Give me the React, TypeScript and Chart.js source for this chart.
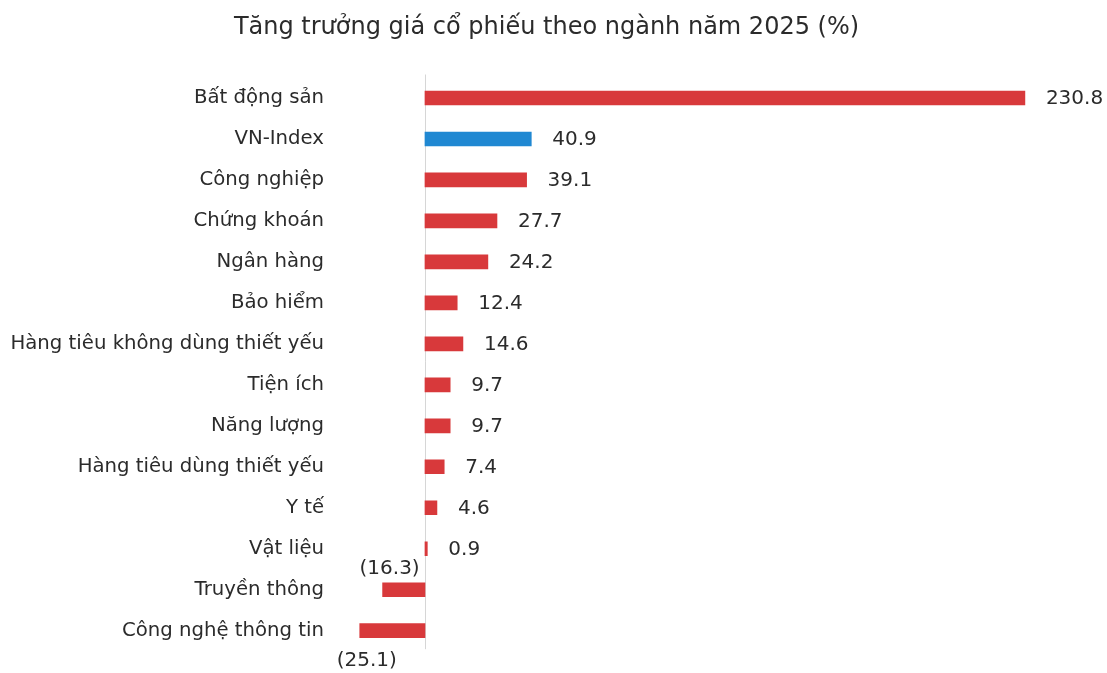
import React, { useEffect, useRef } from "react";
import { Chart, registerables } from "chart.js";

Chart.register(...registerables);

const TITLE = "Tăng trưởng giá cổ phiếu theo ngành năm 2025 (%)";

const categories = [
  "Bất động sản",
  "VN-Index",
  "Công nghiệp",
  "Chứng khoán",
  "Ngân hàng",
  "Bảo hiểm",
  "Hàng tiêu không dùng thiết yếu",
  "Tiện ích",
  "Năng lượng",
  "Hàng tiêu dùng thiết yếu",
  "Y tế",
  "Vật liệu",
  "Truyền thông",
  "Công nghệ thông tin",
];

const growth = [230.8, 40.9, 39.1, 27.7, 24.2, 12.4, 14.6, 9.7, 9.7, 7.4, 4.6, 0.9, -16.3, -25.1];

const highlightCategory = "VN-Index";

const RED = "#d8393b";
const BLUE = "#2088d2";
const FONT = "'DejaVu Sans', sans-serif";

const zeroLinePlugin = {
  id: "zeroLine",
  beforeDatasetsDraw(chart: any) {
    const { ctx, chartArea, scales } = chart;
    const x = Math.round(scales.x.getPixelForValue(0)) + 0.5;
    ctx.save();
    ctx.strokeStyle = "#d6d6d6";
    ctx.lineWidth = 1;
    ctx.beginPath();
    ctx.moveTo(x, chartArea.top - 3);
    ctx.lineTo(x, chartArea.bottom - 2);
    ctx.stroke();
    ctx.restore();
  },
};

const valueLabelPlugin = {
  id: "valueLabels",
  afterDatasetsDraw(chart: any) {
    const { ctx } = chart;
    const meta = chart.getDatasetMeta(0);
    const data = chart.data.datasets[0].data as number[];
    const n = data.length;
    ctx.save();
    ctx.font = `20px ${FONT}`;
    ctx.fillStyle = "#2b2b2b";
    ctx.textBaseline = "middle";
    meta.data.forEach((bar: any, i: number) => {
      const v = data[i];
      if (v >= 0) {
        ctx.textAlign = "left";
        ctx.fillText(v.toFixed(1), bar.x + 21, bar.y + 1);
      } else {
        ctx.textAlign = "center";
        const txt = `(${Math.abs(v).toFixed(1)})`;
        const dy = i === n - 1 ? 30 : -21;
        ctx.fillText(txt, bar.x + 7, bar.y + dy);
      }
    });
    ctx.restore();
  },
};

export default function App() {
  const canvasRef = useRef<HTMLCanvasElement | null>(null);

  useEffect(() => {
    if (!canvasRef.current) return;
    const chart = new Chart(canvasRef.current, {
      type: "bar",
      data: {
        labels: categories,
        datasets: [
          {
            data: growth,
            backgroundColor: categories.map((c) => (c === highlightCategory ? BLUE : RED)),
            borderWidth: 0,
            barThickness: 14,
          },
        ],
      },
      options: {
        indexAxis: "y",
        animation: false,
        responsive: true,
        maintainAspectRatio: false,
        layout: { padding: { top: 0, bottom: 20, left: 0, right: 14 } },
        plugins: {
          legend: { display: false },
          tooltip: { enabled: false },
          title: {
            display: true,
            text: TITLE,
            color: "#2b2b2b",
            font: { family: FONT, size: 24, weight: "normal", lineHeight: 1.2 },
            padding: { top: 13, bottom: 35.7 },
          },
        },
        scales: {
          x: {
            display: false,
            min: -35,
            max: 257,
          },
          y: {
            grid: { display: false, drawTicks: false },
            border: { display: false },
            ticks: {
              color: "#2b2b2b",
              font: { family: FONT, size: 19.7 },
              padding: 10,
            },
            afterFit(scale: any) {
              scale.width = 334;
            },
          },
        },
      },
      plugins: [zeroLinePlugin, valueLabelPlugin],
    });
    return () => chart.destroy();
  }, []);

  return (
    <div style={{ position: "absolute", left: 0, top: 0, width: 1107, height: 673, background: "#fff" }}>
      <canvas ref={canvasRef} />
    </div>
  );
}
